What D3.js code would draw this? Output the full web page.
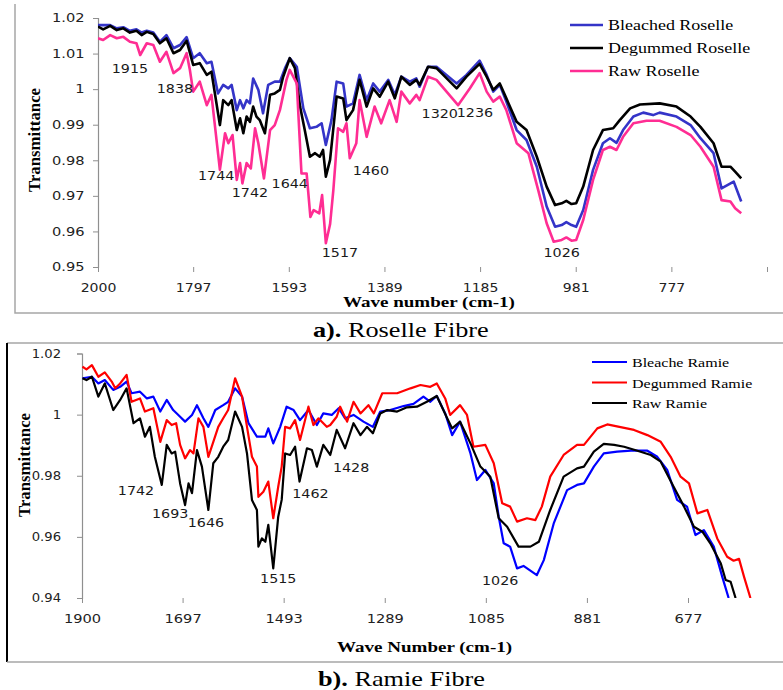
<!DOCTYPE html>
<html>
<head>
<meta charset="utf-8">
<script src="https://cdn.jsdelivr.net/npm/d3@7"></script>
<style>
  body { margin: 0; background: #fff; }
  svg { display: block; }
  .serif { font-family: "Liberation Serif", "Times New Roman", Times, "DejaVu Serif", serif; }
  .sans { font-family: "DejaVu Sans", Verdana, sans-serif; }
</style>
</head>
<body>
<svg id="root" width="783" height="690"></svg>
<script>
/* global d3 */

// ---- Roselle (panel a) ----
const roselleTicksX = [2000, 1797, 1593, 1389, 1185, 981, 777, 573]
const roselleTicksY = [0.95, 0.96, 0.97, 0.98, 0.99, 1, 1.01, 1.02]
const roselleNames = ['Bleached Roselle', 'Degummed Roselle', 'Raw Roselle']

const roselleBleached = [[2000,1.0180],[1974,1.0180],[1960,1.0171],[1946,1.0174],[1932,1.0164],[1918,1.0168],[1907,1.0159],[1896,1.0164],[1882,1.0159],[1868,1.0133],[1854,1.0152],[1839,1.0115],[1825,1.0124],[1811,1.0146],[1797,1.0087],[1783,1.0101],[1768,1.0073],[1758,1.0077],[1744,0.9988],[1733,1.0012],[1722,1.0002],[1715,1.0012],[1704,0.9941],[1697,0.9969],[1690,0.9946],[1683,0.9969],[1676,0.9960],[1669,1.0030],[1658,0.9998],[1648,0.9932],[1637,1.0012],[1623,1.0021],[1612,1.0021],[1601,1.0059],[1591,1.0087],[1576,1.0063],[1562,0.9946],[1548,0.9890],[1534,0.9894],[1523,0.9904],[1514,0.9843],[1502,0.9913],[1491,1.0021],[1477,1.0016],[1470,0.9951],[1456,0.9960],[1442,1.0040],[1427,0.9969],[1413,1.0016],[1399,0.9993],[1381,1.0026],[1367,0.9984],[1353,1.0035],[1335,1.0021],[1321,1.0030],[1314,1.0007],[1296,1.0063],[1278,1.0063],[1235,1.0016],[1214,1.0040],[1186,1.0080],[1171,1.0040],[1157,0.9993],[1143,1.0012],[1129,0.9965],[1107,0.9885],[1086,0.9857],[1064,0.9782],[1043,0.9670],[1025,0.9613],[1011,0.9618],[1001,0.9626],[990,0.9618],[980,0.9613],[965,0.9660],[944,0.9773],[923,0.9848],[908,0.9862],[894,0.9849],[880,0.9885],[858,0.9923],[837,0.9934],[816,0.9927],[802,0.9934],[766,0.9923],[736,0.9899],[715,0.9862],[687,0.9820],[670,0.9721],[644,0.9740],[628,0.9684]]

const roselleDegummed = [[2000,1.0176],[1989,1.0168],[1974,1.0178],[1960,1.0166],[1946,1.0171],[1932,1.0159],[1918,1.0164],[1907,1.0152],[1896,1.0161],[1882,1.0155],[1868,1.0129],[1854,1.0143],[1839,1.0101],[1825,1.0110],[1811,1.0136],[1797,1.0068],[1783,1.0073],[1768,1.0040],[1758,1.0049],[1740,0.9899],[1733,0.9969],[1722,0.9955],[1715,0.9969],[1704,0.9885],[1697,0.9918],[1690,0.9876],[1683,0.9923],[1676,0.9908],[1669,0.9951],[1662,0.9923],[1655,0.9913],[1644,0.9876],[1633,0.9984],[1623,0.9988],[1612,0.9998],[1605,1.0035],[1591,1.0087],[1580,1.0059],[1569,0.9951],[1559,0.9885],[1548,0.9810],[1537,0.9820],[1527,0.9810],[1520,0.9829],[1514,0.9754],[1505,0.9801],[1491,0.9979],[1477,0.9974],[1470,0.9913],[1456,0.9941],[1442,1.0026],[1427,0.9951],[1413,1.0002],[1399,0.9979],[1381,1.0021],[1367,0.9974],[1353,1.0035],[1335,1.0012],[1321,1.0026],[1314,1.0012],[1296,1.0063],[1278,1.0059],[1235,1.0002],[1214,1.0035],[1186,1.0071],[1171,1.0035],[1157,0.9998],[1143,1.0016],[1129,0.9974],[1107,0.9908],[1086,0.9885],[1064,0.9810],[1043,0.9726],[1025,0.9674],[1011,0.9679],[1001,0.9686],[990,0.9677],[980,0.9679],[965,0.9726],[944,0.9829],[923,0.9885],[901,0.9890],[887,0.9913],[865,0.9946],[844,0.9957],[802,0.9960],[766,0.9951],[736,0.9923],[715,0.9894],[687,0.9848],[670,0.9782],[651,0.9782],[641,0.9768],[628,0.9749]]

const roselleRaw = [[2000,1.0143],[1989,1.0138],[1974,1.0152],[1960,1.0143],[1946,1.0147],[1932,1.0133],[1918,1.0129],[1910,1.0096],[1896,1.0129],[1882,1.0124],[1868,1.0077],[1854,1.0105],[1839,1.0045],[1825,1.0059],[1811,1.0101],[1804,1.0054],[1797,0.9993],[1783,1.0021],[1768,0.9955],[1758,0.9984],[1740,0.9773],[1729,0.9876],[1722,0.9848],[1713,0.9871],[1704,0.9745],[1697,0.9792],[1692,0.9735],[1683,0.9792],[1674,0.9777],[1665,0.9890],[1658,0.9848],[1646,0.9749],[1633,0.9885],[1623,0.9899],[1612,0.9941],[1598,1.0026],[1591,1.0054],[1576,1.0016],[1566,0.9763],[1555,0.9763],[1547,0.9641],[1540,0.9660],[1528,0.9651],[1522,0.9702],[1514,0.9567],[1505,0.9620],[1498,0.9716],[1488,0.9890],[1477,0.9880],[1470,0.9904],[1463,0.9806],[1449,0.9848],[1442,0.9969],[1427,0.9866],[1410,0.9951],[1396,0.9904],[1378,0.9969],[1363,0.9908],[1353,0.9993],[1335,0.9960],[1321,0.9984],[1314,0.9969],[1296,1.0035],[1278,1.0026],[1232,0.9955],[1207,1.0002],[1186,1.0045],[1171,0.9993],[1157,0.9965],[1143,0.9979],[1129,0.9941],[1107,0.9848],[1082,0.9820],[1061,0.9716],[1043,0.9623],[1028,0.9571],[1011,0.9576],[1001,0.9583],[990,0.9574],[980,0.9576],[965,0.9632],[944,0.9745],[923,0.9829],[908,0.9838],[894,0.9829],[880,0.9866],[858,0.9904],[830,0.9911],[802,0.9911],[766,0.9894],[736,0.9871],[715,0.9838],[687,0.9782],[670,0.9688],[651,0.9684],[641,0.9665],[628,0.9651]]

const roselleLabels = ['1915', '1838', '1744', '1742', '1644', '1517', '1460', '1320', '1236', '1026']
const roselleLabelAt = [[1932,1.0045],[1836,0.9989],[1748,0.9745],[1676,0.9697],[1591,0.9722],[1484,0.9528],[1418,0.9758],[1271,0.9919],[1196,0.9922],[1011,0.9528]]

// ---- Ramie (panel b) ----
const ramieTicksX = [1900, 1697, 1493, 1289, 1085, 881, 677]
const ramieTicksY = [0.94, 0.96, 0.98, 1, 1.02]
const ramieNames = ['Bleache Ramie', 'Degummed Ramie', 'Raw Ramie']

const ramieBleached = [[1899,1.0119],[1880,1.0124],[1867,1.0102],[1854,1.0113],[1837,1.0081],[1823,1.0091],[1810,1.0108],[1800,1.0070],[1783,1.0075],[1769,1.0053],[1756,1.0059],[1742,1.0010],[1729,1.0048],[1716,1.0015],[1702,0.9993],[1692,0.9977],[1678,0.9999],[1668,1.0031],[1655,0.9988],[1645,0.9960],[1631,1.0015],[1615,1.0031],[1605,1.0042],[1591,1.0086],[1577,1.0059],[1564,0.9972],[1547,0.9928],[1530,0.9928],[1524,0.9955],[1514,0.9906],[1500,0.9960],[1487,1.0026],[1473,1.0015],[1460,0.9982],[1443,1.0015],[1426,0.9966],[1413,1.0004],[1396,0.9999],[1382,1.0021],[1369,0.9988],[1352,0.9999],[1332,0.9977],[1313,0.9960],[1298,1.0010],[1278,1.0015],[1251,1.0028],[1231,1.0035],[1211,1.0059],[1197,1.0042],[1184,1.0061],[1167,1.0004],[1153,0.9933],[1137,0.9977],[1116,0.9873],[1103,0.9786],[1086,0.9819],[1069,0.9775],[1059,0.9666],[1049,0.9579],[1036,0.9568],[1022,0.9497],[1009,0.9505],[982,0.9475],[968,0.9524],[948,0.9644],[921,0.9753],[901,0.9770],[887,0.9775],[867,0.9830],[847,0.9873],[820,0.9879],[792,0.9882],[759,0.9882],[739,0.9862],[719,0.9819],[699,0.9721],[679,0.9699],[662,0.9606],[645,0.9622],[625,0.9568],[608,0.9470],[595,0.9400]]

const ramieDegummed = [[1899,1.0157],[1891,1.0148],[1880,1.0162],[1867,1.0124],[1854,1.0138],[1840,1.0108],[1833,1.0086],[1823,1.0102],[1810,1.0130],[1800,1.0042],[1783,1.0053],[1773,1.0010],[1756,1.0021],[1742,0.9911],[1729,0.9982],[1719,0.9966],[1710,0.9972],[1702,0.9901],[1692,0.9857],[1682,0.9884],[1675,0.9873],[1665,0.9988],[1655,0.9960],[1645,0.9862],[1635,0.9911],[1625,0.9960],[1615,0.9988],[1605,1.0015],[1591,1.0119],[1577,1.0059],[1567,0.9960],[1557,0.9862],[1547,0.9830],[1544,0.9731],[1534,0.9748],[1524,0.9781],[1514,0.9661],[1504,0.9764],[1497,0.9830],[1490,0.9960],[1480,0.9955],[1470,0.9982],[1460,0.9917],[1443,1.0026],[1433,0.9966],[1423,0.9988],[1406,0.9960],[1399,0.9966],[1386,0.9993],[1379,1.0026],[1365,0.9977],[1352,1.0042],[1338,1.0004],[1322,1.0031],[1311,1.0004],[1294,1.0070],[1264,1.0070],[1237,1.0086],[1217,1.0097],[1197,1.0091],[1184,1.0102],[1167,1.0053],[1157,0.9999],[1137,1.0031],[1123,0.9999],[1110,0.9895],[1086,0.9901],[1069,0.9841],[1052,0.9710],[1036,0.9699],[1022,0.9650],[1002,0.9661],[985,0.9655],[972,0.9699],[955,0.9797],[928,0.9868],[901,0.9901],[887,0.9901],[860,0.9955],[840,0.9968],[813,0.9959],[786,0.9950],[759,0.9933],[732,0.9911],[712,0.9862],[692,0.9797],[675,0.9775],[658,0.9677],[638,0.9688],[618,0.9595],[598,0.9535],[585,0.9522],[574,0.9528],[564,0.9470],[551,0.9400]]

const ramieRaw = [[1899,1.0119],[1891,1.0113],[1880,1.0124],[1867,1.0059],[1854,1.0102],[1837,1.0015],[1823,1.0048],[1810,1.0086],[1796,0.9972],[1783,0.9988],[1773,0.9928],[1763,0.9960],[1753,0.9862],[1739,0.9770],[1729,0.9901],[1719,0.9873],[1712,0.9879],[1702,0.9775],[1692,0.9704],[1685,0.9775],[1678,0.9743],[1668,0.9884],[1658,0.9830],[1645,0.9688],[1635,0.9841],[1625,0.9862],[1615,0.9895],[1605,0.9917],[1591,1.0010],[1577,0.9960],[1567,0.9873],[1557,0.9721],[1547,0.9688],[1544,0.9568],[1537,0.9595],[1530,0.9584],[1524,0.9639],[1514,0.9497],[1504,0.9666],[1497,0.9721],[1490,0.9873],[1480,0.9868],[1470,0.9895],[1461,0.9781],[1446,0.9890],[1436,0.9884],[1426,0.9830],[1413,0.9901],[1399,0.9868],[1386,0.9950],[1369,0.9890],[1352,0.9972],[1338,0.9933],[1325,0.9960],[1313,0.9939],[1298,1.0004],[1284,1.0015],[1264,1.0010],[1244,1.0024],[1224,1.0026],[1204,1.0042],[1184,1.0061],[1163,0.9988],[1153,0.9955],[1137,0.9977],[1116,0.9906],[1096,0.9830],[1076,0.9797],[1059,0.9661],[1042,0.9633],[1019,0.9568],[995,0.9568],[978,0.9584],[955,0.9688],[928,0.9797],[901,0.9824],[887,0.9830],[867,0.9879],[847,0.9904],[826,0.9901],[806,0.9895],[779,0.9882],[752,0.9868],[732,0.9846],[706,0.9764],[685,0.9699],[665,0.9633],[648,0.9617],[632,0.9579],[611,0.9514],[601,0.9459],[591,0.9453],[581,0.9400]]

const ramieLabels = ['1742', '1693', '1646', '1515', '1462', '1428', '1026']
const ramieLabelAt = [[1791,0.9737],[1722,0.9662],[1650,0.9632],[1504,0.9449],[1439,0.9727],[1357,0.9812],[1056,0.9443]]

const svg = d3.select('#root')

// frames
const frame = svg.append('g').attr('fill', 'none')
frame.append('path').attr('d', 'M15,4V313H783').attr('stroke', '#a6a6a6').attr('stroke-width', 1.5)
frame.append('path').attr('d', 'M7,343H783').attr('stroke', '#a6a6a6').attr('stroke-width', 1.5)
frame.append('path').attr('d', 'M7,343V662').attr('stroke', '#000').attr('stroke-width', 2)
frame.append('path').attr('d', 'M7,662H783').attr('stroke', '#a6a6a6').attr('stroke-width', 1.5)

function fmtY(d) { return String(+d.toFixed(2)) }

function drawPanel(p) {
  const x = d3.scaleLinear().domain(p.xDomain).range([p.left, p.right])
  const y = d3.scaleLinear().domain(p.yDomain).range([p.bottom, p.top])
  const g = svg.append('g')

  const yAxis = g.append('g')
    .attr('transform', 'translate(' + p.left + ',0)')
    .call(d3.axisLeft(y).tickValues(p.yTicks).tickSize(5).tickPadding(p.yPad).tickFormat(fmtY))
  yAxis.attr('font-family', null)
  yAxis.select('.domain').attr('stroke', '#8f8f8f').attr('stroke-width', 1.2)
  yAxis.selectAll('.tick line').attr('stroke', '#8f8f8f')
  yAxis.selectAll('.tick text')
    .attr('class', 'sans').attr('font-size', p.yFont).attr('fill', '#222')
    .attr('transform', 'scale(' + p.yStretch + ',1)')

  const xAxis = g.append('g')
    .attr('transform', 'translate(0,' + p.bottom + ')')
    .call(d3.axisBottom(x).tickValues(p.xTicks).tickSize(5).tickPadding(11)
      .tickFormat(d => p.xHidden.includes(d) ? '' : String(d)))
  xAxis.attr('font-family', null)
  xAxis.select('.domain').remove()
  xAxis.selectAll('.tick line').attr('stroke', '#8f8f8f')
  xAxis.selectAll('.tick text')
    .attr('class', 'sans').attr('font-size', p.xFont).attr('fill', '#222')
    .attr('transform', 'scale(' + p.xStretch + ',1)')

  const clipId = 'clip-' + p.id
  g.append('clipPath').attr('id', clipId)
    .append('rect').attr('x', p.left).attr('y', p.top - 10)
    .attr('width', 783 - p.left).attr('height', p.bottom - p.top + 10)

  const line = d3.line().x(d => x(d[0])).y(d => y(d[1]))
  g.append('g').attr('clip-path', 'url(#' + clipId + ')')
    .selectAll('path')
    .data(p.series)
    .enter()
    .append('path')
    .attr('d', d => line(d))
    .attr('fill', 'none')
    .attr('stroke', (d, i) => p.colors[i])
    .attr('stroke-width', p.lineWidth)
    .attr('stroke-linejoin', 'round')

  // peak labels
  g.append('g').selectAll('text')
    .data(p.labels)
    .enter()
    .append('text')
    .attr('class', 'sans')
    .attr('transform', (d, i) => 'translate(' + x(p.labelAt[i][0]) + ',' + y(p.labelAt[i][1]) + ') scale(1.1,1)')
    .attr('text-anchor', 'middle')
    .attr('font-size', 13).attr('fill', '#1a1a1a')
    .text(d => d)

  // legend
  const leg = g.append('g').selectAll('g')
    .data(p.names)
    .enter()
    .append('g')
    .attr('transform', (d, i) => 'translate(0,' + (p.legY + i * p.legStep) + ')')
  leg.append('line')
    .attr('x1', p.legX0).attr('x2', p.legX1)
    .attr('stroke', (d, i) => p.colors[i]).attr('stroke-width', p.lineWidth)
  leg.append('text')
    .attr('class', 'serif')
    .attr('transform', 'translate(' + (p.legX1 + 5) + ',5) scale(' + p.legStretch + ',1)')
    .attr('font-size', p.legFont).attr('fill', '#000')
    .text(d => d)

  // axis titles
  g.append('text')
    .attr('class', 'serif')
    .attr('transform', 'translate(' + p.yTitle[0] + ',' + p.yTitle[1] + ') rotate(-90) scale(1.05,1)')
    .attr('text-anchor', 'middle')
    .attr('font-size', 16).attr('font-weight', 'bold')
    .text('Transmittance')
  g.append('text')
    .attr('class', 'serif')
    .attr('transform', 'translate(' + p.xTitle[0] + ',' + p.xTitle[1] + ') scale(1.27,1)')
    .attr('font-size', 15).attr('font-weight', 'bold')
    .text(p.xTitleText)

  // caption
  const cap = g.append('text')
    .attr('class', 'serif')
    .attr('transform', 'translate(' + p.caption[0] + ',' + p.caption[1] + ') scale(1.25,1)')
    .attr('font-size', 21).attr('fill', '#000')
  cap.append('tspan').attr('font-weight', 'bold').text(p.captionBold)
  cap.append('tspan').text(p.captionText)
}

drawPanel({
  id: 'a',
  xDomain: [2000, 573], yDomain: [0.95, 1.02],
  left: 98, right: 767, top: 18, bottom: 267,
  xTicks: roselleTicksX, xHidden: [573], yTicks: roselleTicksY,
  yPad: 6, yFont: 12, yStretch: 1.22, xFont: 13, xStretch: 1.08,
  series: [roselleBleached, roselleDegummed, roselleRaw],
  colors: ['#3434c8', '#000000', '#ff2d93'],
  lineWidth: 2.6,
  labels: roselleLabels, labelAt: roselleLabelAt,
  names: roselleNames, legX0: 570, legX1: 603, legY: 25, legStep: 23, legFont: 15, legStretch: 1.2,
  yTitle: [40, 140], xTitle: [343, 307], xTitleText: 'Wave number (cm-1)',
  caption: [313, 337], captionBold: 'a).', captionText: ' Roselle Fibre'
})

drawPanel({
  id: 'b',
  xDomain: [1900, 677], yDomain: [0.94, 1.02],
  left: 82, right: 688, top: 353.5, bottom: 598,
  xTicks: ramieTicksX, xHidden: [], yTicks: ramieTicksY,
  yPad: 14, yFont: 12, yStretch: 1.1, xFont: 12.5, xStretch: 1.17,
  series: [ramieBleached, ramieDegummed, ramieRaw],
  colors: ['#0000ff', '#ff0000', '#000000'],
  lineWidth: 2.2,
  labels: ramieLabels, labelAt: ramieLabelAt,
  names: ramieNames, legX0: 592, legX1: 627, legY: 362, legStep: 20.5, legFont: 13, legStretch: 1.23,
  yTitle: [30, 465], xTitle: [337, 652], xTitleText: 'Wave Number (cm-1)',
  caption: [318, 686], captionBold: 'b).', captionText: ' Ramie Fibre'
})
</script>
</body>
</html>
